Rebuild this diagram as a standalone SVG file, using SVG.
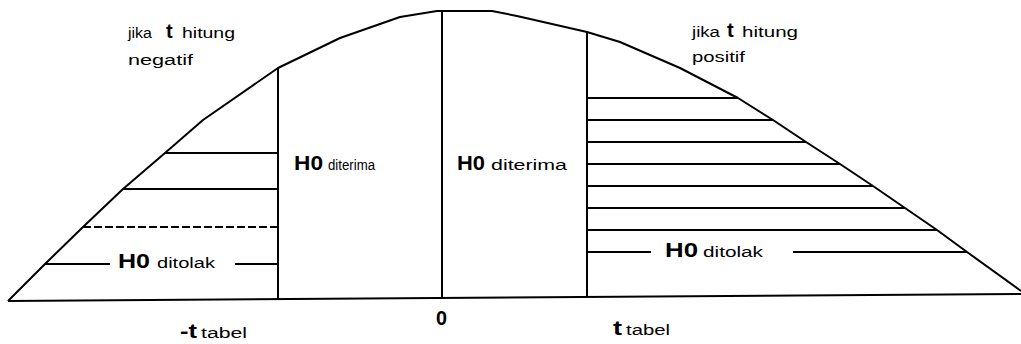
<svg xmlns="http://www.w3.org/2000/svg" width="1021" height="344" viewBox="0 0 1021 344">
<style>
.ln{stroke:#000;stroke-width:2;fill:none;stroke-linecap:butt;stroke-linejoin:round}
.sm{font-family:"Liberation Sans",Arial,sans-serif;font-size:14px;fill:#000}
.bg{font-family:"Liberation Sans",Arial,sans-serif;font-size:20px;fill:#000;font-weight:bold}
</style>
<rect width="1021" height="344" fill="#fff"/>
<g id="connectors">
<polyline class="ln" points="8,301 45,264 83,227 123,189 165,153 203,120 278,68 340,38 400,17 437,11 492,11 517,16 587,32 620,42 680,68 738,98 773,120 806,142 840,164 873,186 905,208 937,230 967,252 1021,291"/>
<line class="ln" x1="8" y1="301" x2="1021" y2="294"/>
<line class="ln" x1="278" y1="68" x2="278" y2="300"/>
<line class="ln" x1="442" y1="11" x2="442" y2="298"/>
<line class="ln" x1="587" y1="32" x2="587" y2="297"/>
<line class="ln" x1="165" y1="153" x2="278" y2="153"/>
<line class="ln" x1="123" y1="189" x2="278" y2="189"/>
<line class="ln" x1="83" y1="227" x2="278" y2="227" stroke-dasharray="8,3" stroke-width="1.4"/>
<line class="ln" x1="45" y1="264" x2="110" y2="264"/>
<line class="ln" x1="235" y1="264" x2="278" y2="264"/>
<line class="ln" x1="587" y1="98" x2="738" y2="98"/>
<line class="ln" x1="587" y1="120" x2="773" y2="120"/>
<line class="ln" x1="587" y1="142" x2="806" y2="142"/>
<line class="ln" x1="587" y1="164" x2="840" y2="164"/>
<line class="ln" x1="587" y1="186" x2="873" y2="186"/>
<line class="ln" x1="587" y1="208" x2="905" y2="208"/>
<line class="ln" x1="587" y1="230" x2="937" y2="230"/>
<line class="ln" x1="587" y1="252" x2="651" y2="252"/>
<line class="ln" x1="793" y1="252" x2="967" y2="252"/>
</g>
<g id="label-left-top">
<text class="sm" x="128" y="38" textLength="24" lengthAdjust="spacingAndGlyphs">jika</text>
<text class="bg" x="166" y="38" font-size="18">t</text>
<text class="sm" x="182" y="38" textLength="53" lengthAdjust="spacingAndGlyphs">hitung</text>
<text class="sm" x="128" y="65" textLength="65" lengthAdjust="spacingAndGlyphs">negatif</text>
</g>
<g id="label-right-top">
<text class="sm" x="692" y="37" textLength="28" lengthAdjust="spacingAndGlyphs">jika</text>
<text class="bg" x="727" y="37" font-size="18">t</text>
<text class="sm" x="742" y="37" textLength="56" lengthAdjust="spacingAndGlyphs">hitung</text>
<text class="sm" x="692" y="62" textLength="53" lengthAdjust="spacingAndGlyphs">positif</text>
</g>
<g id="label-accept-left">
<text class="bg" x="294" y="170" textLength="29" lengthAdjust="spacingAndGlyphs">H0</text>
<text class="sm" x="328" y="170" textLength="47" lengthAdjust="spacingAndGlyphs">diterima</text>
</g>
<g id="label-accept-right">
<text class="bg" x="457" y="170" textLength="28" lengthAdjust="spacingAndGlyphs">H0</text>
<text class="sm" x="491" y="170" textLength="76" lengthAdjust="spacingAndGlyphs">diterima</text>
</g>
<g id="label-reject-left">
<text class="bg" x="118" y="268" textLength="32" lengthAdjust="spacingAndGlyphs">H0</text>
<text class="sm" x="157" y="268" textLength="58" lengthAdjust="spacingAndGlyphs">ditolak</text>
</g>
<g id="label-reject-right">
<text class="bg" x="665" y="257" textLength="33" lengthAdjust="spacingAndGlyphs">H0</text>
<text class="sm" x="703" y="257" textLength="60" lengthAdjust="spacingAndGlyphs">ditolak</text>
</g>
<g id="axis-labels">
<text class="bg" x="180" y="338" textLength="17" lengthAdjust="spacingAndGlyphs">-t</text>
<text class="sm" x="201" y="338" textLength="46" lengthAdjust="spacingAndGlyphs">tabel</text>
<text class="bg" x="436" y="325" font-weight="normal" textLength="11" lengthAdjust="spacingAndGlyphs">0</text>
<text class="bg" x="613" y="335" textLength="9" lengthAdjust="spacingAndGlyphs">t</text>
<text class="sm" x="626" y="335" textLength="44" lengthAdjust="spacingAndGlyphs">tabel</text>
</g>
</svg>
